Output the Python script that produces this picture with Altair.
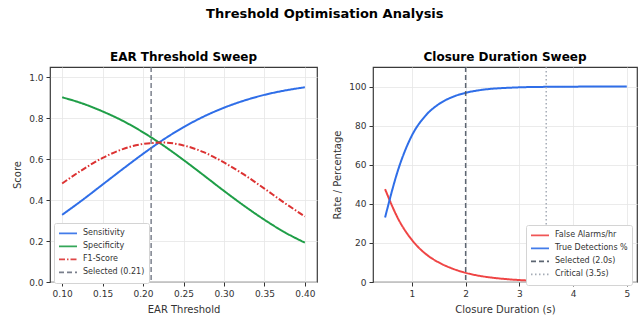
import altair as alt
import pandas as pd

# ---------------- data ----------------
ear_thr = [0.100, 0.125, 0.150, 0.175, 0.200, 0.225, 0.250, 0.275, 0.300, 0.325, 0.350, 0.375, 0.400]
sensitivity = [0.328, 0.400, 0.476, 0.552, 0.626, 0.695, 0.756, 0.808, 0.851, 0.886, 0.914, 0.935, 0.951]
specificity = [0.902, 0.872, 0.833, 0.787, 0.731, 0.667, 0.596, 0.521, 0.445, 0.372, 0.304, 0.243, 0.192]
f1_score = [0.481, 0.548, 0.606, 0.649, 0.674, 0.681, 0.667, 0.634, 0.584, 0.524, 0.456, 0.386, 0.320]
ear_selected = 0.21

durations = [0.50, 0.75, 1.00, 1.25, 1.50, 1.75, 2.00, 2.25, 2.50, 2.75, 3.00, 3.50, 4.00, 4.50, 5.00]
false_alarms = [47.5, 32.0, 21.5, 14.5, 10.0, 6.9, 4.7, 3.2, 2.2, 1.5, 1.0, 0.45, 0.2, 0.1, 0.05]
true_detections = [33.0, 58.0, 75.0, 85.0, 91.0, 94.6, 96.8, 98.1, 98.9, 99.3, 99.6, 99.85, 99.95, 99.98, 100.0]
dur_selected = 2.0
dur_critical = 3.5

left_series = ["Sensitivity", "Specificity", "F1-Score", "Selected (0.21)"]
left_colors = ["#2f6ee8", "#1f9e47", "#dc3232", "#6b7280"]
left_dashes = [[1, 0], [1, 0], [6, 2, 1.5, 2], [5, 3]]

right_series = ["False Alarms/hr", "True Detections %", "Selected (2.0s)", "Critical (3.5s)"]
right_colors = ["#ef4444", "#2f6ee8", "#4b5563", "#9ca3af"]
right_dashes = [[1, 0], [1, 0], [5, 3], [1.5, 2.5]]

# ---------------- tables ----------------
df_left = pd.DataFrame({
    "x": ear_thr * 3,
    "y": sensitivity + specificity + f1_score,
    "series": [left_series[0]] * len(ear_thr) + [left_series[1]] * len(ear_thr) + [left_series[2]] * len(ear_thr),
})
df_left_rule = pd.DataFrame({"x": [ear_selected], "series": [left_series[3]]})

df_right = pd.DataFrame({
    "x": durations * 2,
    "y": false_alarms + true_detections,
    "series": [right_series[0]] * len(durations) + [right_series[1]] * len(durations),
})
df_right_rule = pd.DataFrame({"x": [dur_selected, dur_critical], "series": [right_series[2], right_series[3]]})

legend_common = dict(
    title=None, orient="none", symbolType="stroke", symbolSize=324, symbolStrokeWidth=1.6,
    labelFontSize=8, labelColor="#333", fillColor="white", strokeColor="#d4d4d4",
    padding=4, cornerRadius=2, clipHeight=12.7, rowPadding=0, labelOffset=5,
)

# ---------------- left panel ----------------
lx = alt.X("x:Q", scale=alt.Scale(domain=[0.085, 0.415], nice=False, zero=False),
           axis=alt.Axis(values=[0.10, 0.15, 0.20, 0.25, 0.30, 0.35, 0.40], format=".2f", title="EAR Threshold"))
ly = alt.Y("y:Q", scale=alt.Scale(domain=[0, 1.05], nice=False),
           axis=alt.Axis(values=[0, 0.2, 0.4, 0.6, 0.8, 1.0], format=".1f", title="Score"))
lcolor_scale = alt.Scale(domain=left_series, range=left_colors)
ldash_scale = alt.Scale(domain=left_series, range=left_dashes)
lleg = alt.Legend(legendX=4, legendY=156, **legend_common)

left_lines = alt.Chart(df_left).mark_line(strokeWidth=2, interpolate="monotone").encode(
    x=lx, y=ly,
    color=alt.Color("series:N", scale=lcolor_scale, legend=lleg),
    strokeDash=alt.StrokeDash("series:N", scale=ldash_scale, legend=lleg),
)
left_rule = alt.Chart(df_left_rule).mark_rule(strokeWidth=1.5, opacity=0.9).encode(
    x=alt.X("x:Q"),
    color=alt.Color("series:N", scale=lcolor_scale, legend=lleg),
    strokeDash=alt.StrokeDash("series:N", scale=ldash_scale, legend=lleg),
)
left = alt.layer(left_lines, left_rule).properties(
    width=267, height=215,
    title=alt.TitleParams("EAR Threshold Sweep", fontSize=12, fontWeight="bold", offset=2),
)

# ---------------- right panel ----------------
rx = alt.X("x:Q", scale=alt.Scale(domain=[0.275, 5.19], nice=False, zero=False),
           axis=alt.Axis(values=[1, 2, 3, 4, 5], format="d", title="Closure Duration (s)"))
ry = alt.Y("y:Q", scale=alt.Scale(domain=[0, 110], nice=False),
           axis=alt.Axis(values=[0, 20, 40, 60, 80, 100], format="d", title="Rate / Percentage"))
rcolor_scale = alt.Scale(domain=right_series, range=right_colors)
rdash_scale = alt.Scale(domain=right_series, range=right_dashes)
rleg = alt.Legend(legendX=153, legendY=158, **legend_common)

right_lines = alt.Chart(df_right).mark_line(strokeWidth=2, interpolate="monotone").encode(
    x=rx, y=ry,
    color=alt.Color("series:N", scale=rcolor_scale, legend=rleg),
    strokeDash=alt.StrokeDash("series:N", scale=rdash_scale, legend=rleg),
)
right_rule = alt.Chart(df_right_rule).mark_rule(strokeWidth=1.5, opacity=0.9).encode(
    x=alt.X("x:Q"),
    color=alt.Color("series:N", scale=rcolor_scale, legend=rleg),
    strokeDash=alt.StrokeDash("series:N", scale=rdash_scale, legend=rleg),
)
right = alt.layer(right_lines, right_rule).properties(
    width=264, height=215,
    title=alt.TitleParams("Closure Duration Sweep", fontSize=12, fontWeight="bold", offset=2),
)

chart = alt.hconcat(left, right, spacing=14).resolve_scale(
    color="independent", strokeDash="independent"
).properties(
    title=alt.TitleParams("Threshold Optimisation Analysis", fontSize=13, fontWeight="bold",
                          anchor="middle", offset=30),
    padding={"left": 12, "top": 7, "right": 0, "bottom": 0},
).configure(
    font="DejaVu Sans",
).configure_title(
    color="black", font="DejaVu Sans",
).configure_axis(
    labelFontSize=9, labelColor="#333", titleFontSize=10, titleColor="#333",
    titleFontWeight="normal", tickSize=4, tickColor="#333", labelPadding=3, titlePadding=6,
    domain=False, gridColor="#e6e6e6", gridWidth=0.8,
).configure_view(
    stroke="#3a3a3a", strokeWidth=1.2,
)

chart.save("out.html", embed_options={"renderer": "svg", "actions": False})
